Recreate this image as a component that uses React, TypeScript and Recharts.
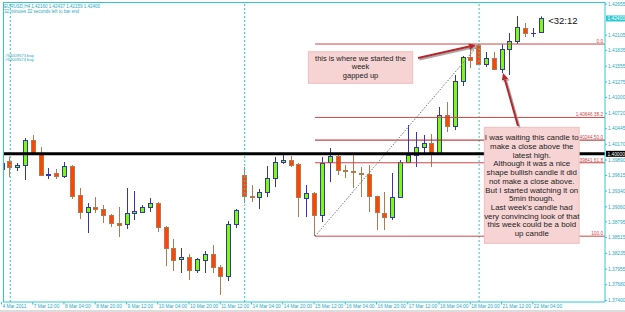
import React from 'react';
import { ComposedChart, Bar, XAxis, YAxis, ReferenceLine, ReferenceDot } from 'recharts';

// EURUSD H4 bars, 4 Mar 2011 20:00 .. 22 Mar 2011 04:00
const opens = [
  1.39731, 1.39872, 1.39766, 1.39801, 1.40245, 1.40014, 1.39624, 1.3966, 1.39606, 1.39784,
  1.3927, 1.38968, 1.39057, 1.39022, 1.38915, 1.38773, 1.38755, 1.38951, 1.38968, 1.39057,
  1.39128, 1.38702, 1.3833, 1.38135, 1.3817, 1.3794, 1.38117, 1.38223, 1.37993, 1.37834,
  1.38755, 1.39624, 1.39252, 1.39234, 1.39323, 1.39571, 1.39855, 1.3989, 1.39819, 1.39216,
  1.39305, 1.38915, 1.39855, 1.39961, 1.39713, 1.39695, 1.3966, 1.39642, 1.39252, 1.38951,
  1.38879, 1.39234, 1.39855, 1.39979, 1.4012, 1.40191, 1.40014, 1.40688, 1.40493, 1.41291,
  1.41716, 1.41929, 1.41592, 1.41699, 1.41504, 1.41858, 1.42, 1.42231, 1.4215, 1.4216,
];
const highs = [
  1.39925, 1.39943, 1.39837, 1.4028, 1.40334, 1.4012, 1.39748, 1.39731, 1.39855, 1.39801,
  1.39394, 1.39128, 1.39234, 1.39093, 1.38933, 1.39057, 1.39394, 1.39341, 1.39093, 1.39216,
  1.39145, 1.3872, 1.3849, 1.3833, 1.38223, 1.38152, 1.38276, 1.38383, 1.38028, 1.38808,
  1.39022, 1.39766, 1.39447, 1.39376, 1.39784, 1.39943, 1.40014, 1.39961, 1.39837, 1.39447,
  1.39323, 1.39943, 1.40103, 1.39979, 1.39801, 1.39979, 1.39766, 1.39801, 1.3926, 1.39323,
  1.3966, 1.3989, 1.40511, 1.40387, 1.40334, 1.40351, 1.4083, 1.40918, 1.41397, 1.41734,
  1.41894, 1.41947, 1.41805, 1.41805, 1.4194, 1.42142, 1.42443, 1.42319, 1.42231, 1.42437,
];
const lows = [
  1.39678, 1.39589, 1.39695, 1.39536, 1.39996, 1.39606, 1.39553, 1.39553, 1.39571, 1.39199,
  1.38844, 1.38596, 1.38951, 1.38773, 1.38702, 1.38525, 1.38667, 1.38826, 1.3896, 1.38968,
  1.38613, 1.3801, 1.37922, 1.37887, 1.37763, 1.37887, 1.37887, 1.37887, 1.37497, 1.37745,
  1.38684, 1.39128, 1.39145, 1.39022, 1.39234, 1.39412, 1.39819, 1.39766, 1.38879, 1.38879,
  1.38543, 1.38791, 1.395, 1.39624, 1.39571, 1.39394, 1.39234, 1.38968, 1.38649, 1.38649,
  1.38826, 1.39225, 1.39837, 1.39766, 1.39979, 1.39766, 1.39979, 1.40387, 1.40422, 1.41202,
  1.41521, 1.4158, 1.41539, 1.41486, 1.41433, 1.41397, 1.41947, 1.42071, 1.42071, 1.42159,
];
const closes = [
  1.39837, 1.39766, 1.39801, 1.40245, 1.40014, 1.39624, 1.39642, 1.39606, 1.39784, 1.39252,
  1.38968, 1.39057, 1.39022, 1.38915, 1.38773, 1.38737, 1.38951, 1.38986, 1.39057, 1.39128,
  1.38702, 1.3833, 1.38117, 1.3817, 1.3794, 1.38135, 1.38223, 1.37993, 1.37834, 1.38755,
  1.39004, 1.39252, 1.39234, 1.39323, 1.39571, 1.39855, 1.3989, 1.39801, 1.39234, 1.39305,
  1.38915, 1.39837, 1.39961, 1.39713, 1.39695, 1.39678, 1.39642, 1.39252, 1.38968, 1.38879,
  1.39234, 1.39855, 1.39979, 1.4012, 1.40191, 1.40014, 1.40688, 1.40493, 1.41291, 1.41716,
  1.41663, 1.41592, 1.41699, 1.41504, 1.41858, 1.42, 1.42248, 1.42142, 1.4215, 1.424,
];

const tickBars = [0, 4, 8, 12, 16, 20, 24, 28, 32, 36, 40, 44, 48, 52, 56, 60, 64, 68];
const tickLabels = [
  '4 Mar 2011', '7 Mar 12:00', '8 Mar 04:00', '8 Mar 20:00', '9 Mar 12:00', '10 Mar 04:00',
  '10 Mar 20:00', '11 Mar 12:00', '14 Mar 04:00', '14 Mar 20:00', '15 Mar 12:00', '16 Mar 04:00',
  '16 Mar 20:00', '17 Mar 12:00', '18 Mar 04:00', '18 Mar 20:00', '21 Mar 12:00', '22 Mar 04:00',
];
const priceTicks = [
  1.42655, 1.42105, 1.41835, 1.41555, 1.41275, 1.41, 1.4072, 1.40445, 1.4017, 1.3989,
  1.39615, 1.3934, 1.3906, 1.38795, 1.38515, 1.38235, 1.37955, 1.3768, 1.374,
];
const weekStarts = [1, 31, 61];

// fibo drawn from the 15 Mar low to the 21 Mar open high
const fibBars = [40, 61];
const fibPrices = [1.3854, 1.41947];
const fibLevels = [0, 38.2, 50, 61.8, 100];

const lastPrice = 1.424;
const roundLevel = 1.4;
const timerText = '<32:12';

const note1 = ['this is where we started the', 'week', 'gapped up'];
const note2 = [
  'I was waiting this candle to',
  'make a close above the',
  'latest high.',
  'Although it was a nice',
  'shape bullish candle it did',
  'not make a close above.',
  'But I started watching it on',
  '5min though.',
  "Last week's candle had",
  'very convincing look of that',
  'this week could be a bold',
  'up candle',
];

const AXIS = '#2ec8d4';
const AXIS_TEXT = '#2aa8c0';
const BULL = '#7cfc00';
const BULL_LINE = '#3434b4';
const BEAR = '#ff4500';
const BEAR_LINE = '#b07a52';
const FIB = '#c94848';
const NOTE_FILL = '#f7d4d4';
const NOTE_EDGE = '#eebfbf';
const ARROW = '#b8262b';
const FONT = '"Liberation Sans", Arial, sans-serif';

const X_MIN = 0.07;
const X_MAX = 77.11;
const Y_MIN = 1.37373;
const Y_MAX = 1.42692;

const data = opens.map((o, i) => ({
  bar: i,
  open: o,
  high: highs[i],
  low: lows[i],
  close: closes[i],
  range: [lows[i], highs[i]],
}));

const Candle = (props: any) => {
  const { x, y, width, height, payload } = props;
  if (!payload || x == null) return null;
  const { open, close, high, low } = payload;
  const top = Math.min(y, y + height);
  const h = Math.abs(height);
  const py = (p: number) => top + (high === low ? 0 : ((high - p) / (high - low)) * h);
  const up = close >= open;
  const line = up ? BULL_LINE : BEAR_LINE;
  const bx = Math.round(x);
  const cx = bx + width / 2;
  const bTop = Math.round(py(Math.max(open, close)));
  const bBot = Math.round(py(Math.min(open, close)));
  return (
    <g>
      <line x1={cx} x2={cx} y1={top} y2={top + h} stroke={line} strokeWidth={1} />
      {bBot - bTop < 1 ? (
        <line x1={bx} x2={bx + width} y1={bTop + 0.5} y2={bTop + 0.5} stroke={line} strokeWidth={1} />
      ) : (
        <rect x={bx + 0.5} y={bTop + 0.5} width={width - 1} height={bBot - bTop} fill={up ? BULL : BEAR} stroke={line} strokeWidth={1} />
      )}
    </g>
  );
};

const XTick = (props: any) => {
  const { x, y, payload } = props;
  const label = tickLabels[tickBars.indexOf(payload.value)];
  return (
    <g>
      <line x1={x - 1} x2={x - 1} y1={y - 2} y2={y + 0.5} stroke={AXIS} strokeWidth={1} />
      <text x={x} y={y + 4} fontSize={4.8} fill={AXIS_TEXT} fontFamily={FONT}>{label}</text>
    </g>
  );
};

const Arrow = (props: any) => {
  const { x1, y1, x2, y2 } = props;
  const a = Math.atan2(y2 - y1, x2 - x1);
  const c = Math.cos(a);
  const s = Math.sin(a);
  const bx = x2 - 7 * c;
  const by = y2 - 7 * s;
  const pts = `${x2},${y2} ${bx - 3.2 * s},${by + 3.2 * c} ${bx + 3.2 * s},${by - 3.2 * c}`;
  const sh = `${x2 + 1.5},${y2 + 1.5} ${bx - 3.2 * s + 1.5},${by + 3.2 * c + 1.5} ${bx + 3.2 * s + 1.5},${by - 3.2 * c + 1.5}`;
  return (
    <g>
      <line x1={x1 + 1.5} y1={y1 + 1.5} x2={bx + 1.5} y2={by + 1.5} stroke="#a8a8a8" strokeWidth={2} />
      <polygon points={sh} fill="#a8a8a8" />
      <line x1={x1} y1={y1} x2={bx} y2={by} stroke={ARROW} strokeWidth={2} />
      <polygon points={pts} fill={ARROW} />
    </g>
  );
};

// text note drawn as a box spanning the segment's two corners, so it sits above the fibo lines
const noteBox = (lines: string[], first: number, size: number) => (props: any) => {
  const { x1, y1, x2, y2 } = props;
  const x = Math.min(x1, x2);
  const y = Math.min(y1, y2);
  const w = Math.abs(x2 - x1);
  const h = Math.abs(y2 - y1);
  return (
    <g>
      <rect x={x} y={y} width={w} height={h} fill={NOTE_FILL} stroke={NOTE_EDGE} strokeWidth={1} />
      <text textAnchor="middle" fontSize={size} fill="#222" fontFamily={FONT}>
        {lines.map((t, k) => (
          <tspan key={k} x={x + w / 2} y={y + first + k * 8.7}>{t}</tspan>
        ))}
      </text>
    </g>
  );
};

const fibText = (text: string) => (props: any) => {
  const vb = props.viewBox;
  if (!vb) return null;
  return (
    <text x={vb.x + vb.width - 2} y={vb.y - 1.2} textAnchor="end" fontSize={4.7} fill={FIB} fontFamily={FONT}>{text}</text>
  );
};

const axisBox = (text: string, bg: string, fg: string) => (props: any) => {
  const vb = props.viewBox;
  if (!vb) return null;
  const x = vb.x + vb.width + 1;
  return (
    <g>
      <rect x={x} y={vb.y - 3} width={19} height={6} fill={bg} />
      <text x={x + 1.5} y={vb.y + 1.8} fontSize={4.8} fill={fg} fontFamily={FONT}>{text}</text>
    </g>
  );
};

const timerLabel = (props: any) => {
  const vb = props.viewBox;
  if (!vb) return null;
  return (
    <text x={vb.x + 6.5} y={vb.y + 5.5} fontSize={9.5} fill="#111" fontFamily='"Liberation Sans Narrow", "Liberation Sans", sans-serif'>{timerText}</text>
  );
};

export default function App() {
  const fibHigh = fibPrices[1];
  const fibRange = fibPrices[1] - fibPrices[0];
  return (
    <div style={{ position: 'absolute', left: 0, top: 0, width: 625, height: 312, background: '#dcdcdc' }}>
      <div style={{ position: 'absolute', left: 0, top: 0, width: 625, height: 310, background: '#fff' }}>
        <ComposedChart width={625} height={310} data={data} margin={{ top: 2, right: 0, left: 3, bottom: 0 }}>
          <XAxis
            dataKey="bar"
            type="number"
            domain={[X_MIN, X_MAX]}
            allowDataOverflow
            ticks={tickBars}
            interval={0}
            tick={<XTick />}
            tickLine={false}
            tickSize={2}
            tickMargin={0}
            height={8}
            axisLine={{ stroke: AXIS }}
          />
          <YAxis
            orientation="right"
            type="number"
            domain={[Y_MIN, Y_MAX]}
            allowDataOverflow
            ticks={priceTicks}
            interval={0}
            width={20}
            tickSize={2}
            tickMargin={1}
            tick={{ fontSize: 4.8, fill: AXIS_TEXT, fontFamily: FONT }}
            tickLine={{ stroke: AXIS }}
            axisLine={{ stroke: AXIS }}
            tickFormatter={(v: number) => v.toFixed(5)}
          />
          {weekStarts.map((b) => (
            <ReferenceLine key={'w' + b} x={b} stroke={AXIS} strokeDasharray="2 2" strokeWidth={1} />
          ))}
          {fibLevels.map((lv) => {
            const p = fibHigh - (fibRange * lv) / 100;
            const txt = lv === 0 || lv === 100 ? lv.toFixed(1) : `${p.toFixed(5)} ${lv.toFixed(1)}`;
            return (
              <ReferenceLine
                key={'f' + lv}
                segment={[{ x: fibBars[0], y: p }, { x: X_MAX, y: p }]}
                stroke={lv === 50 ? '#a81c1c' : FIB}
                strokeWidth={1}
                label={fibText(txt)}
              />
            );
          })}
          <ReferenceLine
            segment={[{ x: fibBars[0], y: fibPrices[0] }, { x: fibBars[1], y: fibPrices[1] }]}
            stroke="#777"
            strokeDasharray="1.5 1.5"
            strokeWidth={1}
          />
          <ReferenceLine y={roundLevel} stroke="#000" strokeWidth={3} label={axisBox(roundLevel.toFixed(5), '#000', '#fff')} />
          <Bar dataKey="range" barSize={5} shape={<Candle />} isAnimationActive={false} />
          <ReferenceLine y={lastPrice} stroke="none" label={axisBox(lastPrice.toFixed(5), AXIS, '#fff')} />
          <ReferenceDot x={opens.length - 1} y={lastPrice} r={0} fill="none" stroke="none" label={timerLabel} />
          <ReferenceLine segment={[{ x: 39.15, y: 1.4181 }, { x: 52.5, y: 1.4125 }]} shape={noteBox(note1, 9, 7.5)} />
          <ReferenceLine segment={[{ x: 61.67, y: 1.4047 }, { x: 73.8, y: 1.38413 }]} shape={noteBox(note2, 13, 7.9)} />
          <ReferenceLine segment={[{ x: 53.18, y: 1.41699 }, { x: 60.6, y: 1.41929 }]} shape={Arrow} />
          <ReferenceLine segment={[{ x: 65.98, y: 1.40493 }, { x: 64.06, y: 1.41433 }]} shape={Arrow} />
        </ComposedChart>
      </div>
      <div style={{ position: 'absolute', left: 3, top: 2, width: 602, height: 300, borderLeft: `1px solid ${AXIS}`, borderTop: `1px solid ${AXIS}`, boxSizing: 'border-box', pointerEvents: 'none' }} />
      <svg width={625} height={312} style={{ position: 'absolute', left: 0, top: 0, pointerEvents: 'none' }}>
        <text x={4} y={7.5} fontSize={4.5} fill={AXIS_TEXT} fontFamily={FONT}>EURUSD,H4  1.42160 1.42437 1.42159 1.42400</text>
        <text x={4} y={13} fontSize={4.5} fill={AXIS_TEXT} fontFamily={FONT}>32 minutes 32 seconds left to bar end</text>
        <text x={5} y={57} fontSize={4.2} fill={AXIS_TEXT} fontFamily={FONT}>#94009573 buy</text>
        <text x={5} y={61} fontSize={4.2} fill={AXIS_TEXT} fontFamily={FONT}>#94009574 buy</text>
      </svg>
    </div>
  );
}
